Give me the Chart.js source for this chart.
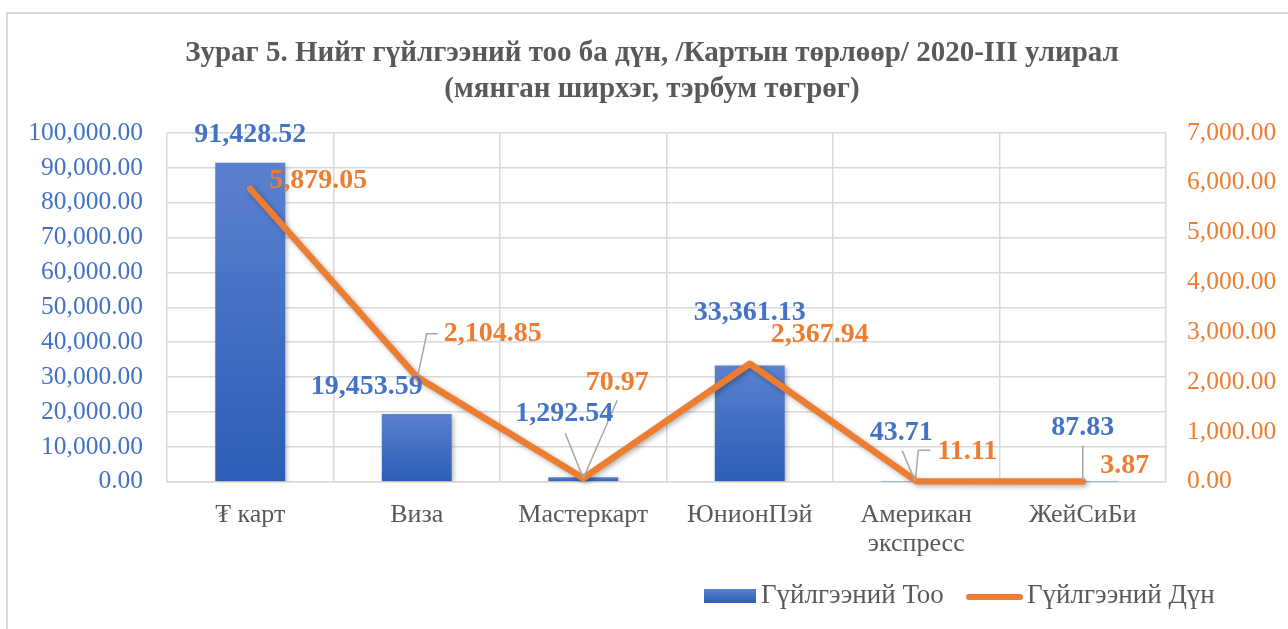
<!DOCTYPE html>
<html>
<head>
<meta charset="utf-8">
<script src="https://cdn.jsdelivr.net/npm/chart.js@4.4.1/dist/chart.umd.min.js"></script>
<style>
  html, body { margin: 0; padding: 0; background: #fff; }
  #wrap { position: relative; width: 1288px; height: 629px; overflow: hidden; }
  #frame { position: absolute; left: 6px; top: 12px; width: 1320px; height: 700px; border: 2px solid #d9d9d9; box-sizing: border-box; }
  #chart { position: absolute; left: 0; top: 0; }
</style>
</head>
<body>
<div id="wrap">
  <div id="frame"></div>
  <canvas id="chart" width="1288" height="629"></canvas>
</div>
<script>
// ─── Data ─────────────────────────────────────────────────────────────────────
const categories   = ['₮ карт', 'Виза', 'Мастеркарт', 'ЮнионПэй', ['Американ', 'экспресс'], 'ЖейСиБи'];
const countValues  = [91428.52, 19453.59, 1292.54, 33361.13, 43.71, 87.83];
const amountValues = [5879.05, 2104.85, 70.97, 2367.94, 11.11, 3.87];
const titleLines   = ['Зураг 5. Нийт гүйлгээний тоо ба дүн, /Картын төрлөөр/ 2020-III улирал', '(мянган ширхэг, тэрбум төгрөг)'];
const seriesNames  = ['Гүйлгээний Тоо', 'Гүйлгээний Дүн'];
const countAxis    = { min: 0, max: 100000, step: 10000 };
const amountAxis   = { min: 0, max: 7000, step: 1000 };

// label placement (offsets from the bar top / line point), leader lines in same space
const countLabelLayout = [
  { dx: 0,   dy: -28 },
  { dx: -50, dy: -27 },
  { dx: -19, dy: -63, leader: [[-18, -44], [0, 1]] },
  { dx: 0,   dy: -53 },
  { dx: -15, dy: -49, leader: [[-14, -31], [-1, 0]] },
  { dx: 0,   dy: -54, leader: [[0, -36], [0, -1]] },
];
const amountLabelLayout = [
  { dx: 68, dy: -8 },
  { dx: 76, dy: -43, leader: [[1, -1], [10, -43], [21, -43]] },
  { dx: 34, dy: -95, leader: [[0, 0], [34, -78]] },
  { dx: 70, dy: -29 },
  { dx: 51, dy: -29, leader: [[-1, 0], [2, -31], [14, -31]] },
  { dx: 42, dy: -16 },
];

const SERIF  = "'Liberation Serif', 'Times New Roman', 'DejaVu Serif', serif";
const BLUE   = '#4472C4';
const ORANGE = '#ED7D31';
const GREY   = '#595959';
const GRID   = '#d9d9d9';

const fmt = v => Number(v).toLocaleString('en-US', { minimumFractionDigits: 2, maximumFractionDigits: 2 });

function barGradient(ctx, top, bottom) {
  if (!isFinite(top) || !isFinite(bottom) || top === bottom) return '#3f6cc2';
  const g = ctx.createLinearGradient(0, top, 0, bottom);
  g.addColorStop(0, '#5a81ce');
  g.addColorStop(1, '#2d5db6');
  return g;
}

// ─── Plugins ──────────────────────────────────────────────────────────────────
const shadowPlugin = {
  id: 'shadow',
  beforeDatasetDraw(chart) {
    const ctx = chart.ctx;
    ctx.save();
    ctx.shadowColor = 'rgba(0,0,0,0.3)';
    ctx.shadowBlur = 5;
    ctx.shadowOffsetX = 2;
    ctx.shadowOffsetY = 2;
  },
  afterDatasetDraw(chart) {
    chart.ctx.restore();
  },
};

const valueLabels = {
  id: 'valueLabels',
  afterDatasetsDraw(chart) {
    const ctx = chart.ctx;
    chart.data.datasets.forEach((ds, i) => {
      const meta = chart.getDatasetMeta(i);
      meta.data.forEach((el, j) => {
        const lay = ds.labelLayout[j];
        if (lay.leader) {
          ctx.save();
          ctx.strokeStyle = '#a6a6a6';
          ctx.lineWidth = 1.5;
          ctx.beginPath();
          lay.leader.forEach(([lx, ly], k) => {
            if (k === 0) ctx.moveTo(el.x + lx, el.y + ly);
            else ctx.lineTo(el.x + lx, el.y + ly);
          });
          ctx.stroke();
          ctx.restore();
        }
        ctx.save();
        ctx.font = `bold 28px ${SERIF}`;
        ctx.fillStyle = ds.labelColor;
        ctx.textAlign = 'center';
        ctx.textBaseline = 'middle';
        ctx.fillText(fmt(ds.data[j]), el.x + lay.dx, el.y + lay.dy);
        ctx.restore();
      });
    });
  },
};

const bottomLegend = {
  id: 'bottomLegend',
  afterDraw(chart) {
    const ctx = chart.ctx;
    const y = 596;
    ctx.save();
    ctx.font = `27px ${SERIF}`;
    ctx.textBaseline = 'middle';
    // bar series key
    ctx.fillStyle = barGradient(ctx, 589, 603);
    ctx.fillRect(704, 589, 52, 14);
    ctx.fillStyle = GREY;
    ctx.fillText(chart.data.datasets[1].label, 761, y);
    // line series key
    ctx.strokeStyle = ORANGE;
    ctx.lineWidth = 6;
    ctx.lineCap = 'round';
    ctx.beginPath();
    ctx.moveTo(969, 597);
    ctx.lineTo(1020, 597);
    ctx.stroke();
    ctx.fillText(chart.data.datasets[0].label, 1027, y);
    ctx.restore();
  },
};

// ─── Chart ────────────────────────────────────────────────────────────────────
const tickFont = { family: SERIF, size: 25.5 };

new Chart(document.getElementById('chart'), {
  data: {
    labels: categories,
    datasets: [
      {
        type: 'line',
        label: seriesNames[1],
        data: amountValues,
        yAxisID: 'y1',
        borderColor: ORANGE,
        borderWidth: 6.5,
        borderCapStyle: 'round',
        borderJoinStyle: 'round',
        pointRadius: 0,
        tension: 0,
        clip: 12,
        order: 0,
        labelColor: ORANGE,
        labelLayout: amountLabelLayout,
      },
      {
        type: 'bar',
        label: seriesNames[0],
        data: countValues,
        yAxisID: 'y',
        backgroundColor: c => {
          const s = c.chart.scales.y;
          if (!s || c.raw === undefined) return '#3f6cc2';
          return barGradient(c.chart.ctx, s.getPixelForValue(c.raw), s.getPixelForValue(0));
        },
        barPercentage: 0.42,
        categoryPercentage: 1,
        order: 1,
        labelColor: BLUE,
        labelLayout: countLabelLayout,
      },
    ],
  },
  options: {
    responsive: false,
    animation: false,
    devicePixelRatio: 1,
    layout: { padding: { left: 16, right: 0, top: 0, bottom: 51 } },
    plugins: {
      legend: { display: false },
      tooltip: { enabled: false },
      title: {
        display: true,
        text: titleLines,
        color: GREY,
        font: { family: SERIF, size: 29, weight: 'bold', lineHeight: 1.24 },
        padding: { top: 36, bottom: 25 },
      },
    },
    scales: {
      x: {
        grid: { color: GRID, lineWidth: 1.5, drawTicks: false },
        border: { color: GRID, width: 1.5 },
        ticks: { color: GREY, font: { family: SERIF, size: 26, lineHeight: 1.12 }, padding: 19, maxRotation: 0, autoSkip: false },
      },
      y: {
        position: 'left',
        min: countAxis.min,
        max: countAxis.max,
        ticks: { stepSize: countAxis.step, autoSkip: false, color: BLUE, font: tickFont, padding: 24, callback: fmt },
        grid: { color: GRID, lineWidth: 1.5, drawTicks: false },
        border: { display: false },
        afterFit: s => { s.width = 151; },
      },
      y1: {
        position: 'right',
        min: amountAxis.min,
        max: amountAxis.max,
        ticks: { stepSize: amountAxis.step, autoSkip: false, color: ORANGE, font: tickFont, padding: 21, callback: fmt },
        grid: { drawOnChartArea: false, drawTicks: false },
        border: { display: false },
        afterFit: s => { s.width = 122; },
      },
    },
  },
  plugins: [shadowPlugin, valueLabels, bottomLegend],
});
</script>
</body>
</html>
